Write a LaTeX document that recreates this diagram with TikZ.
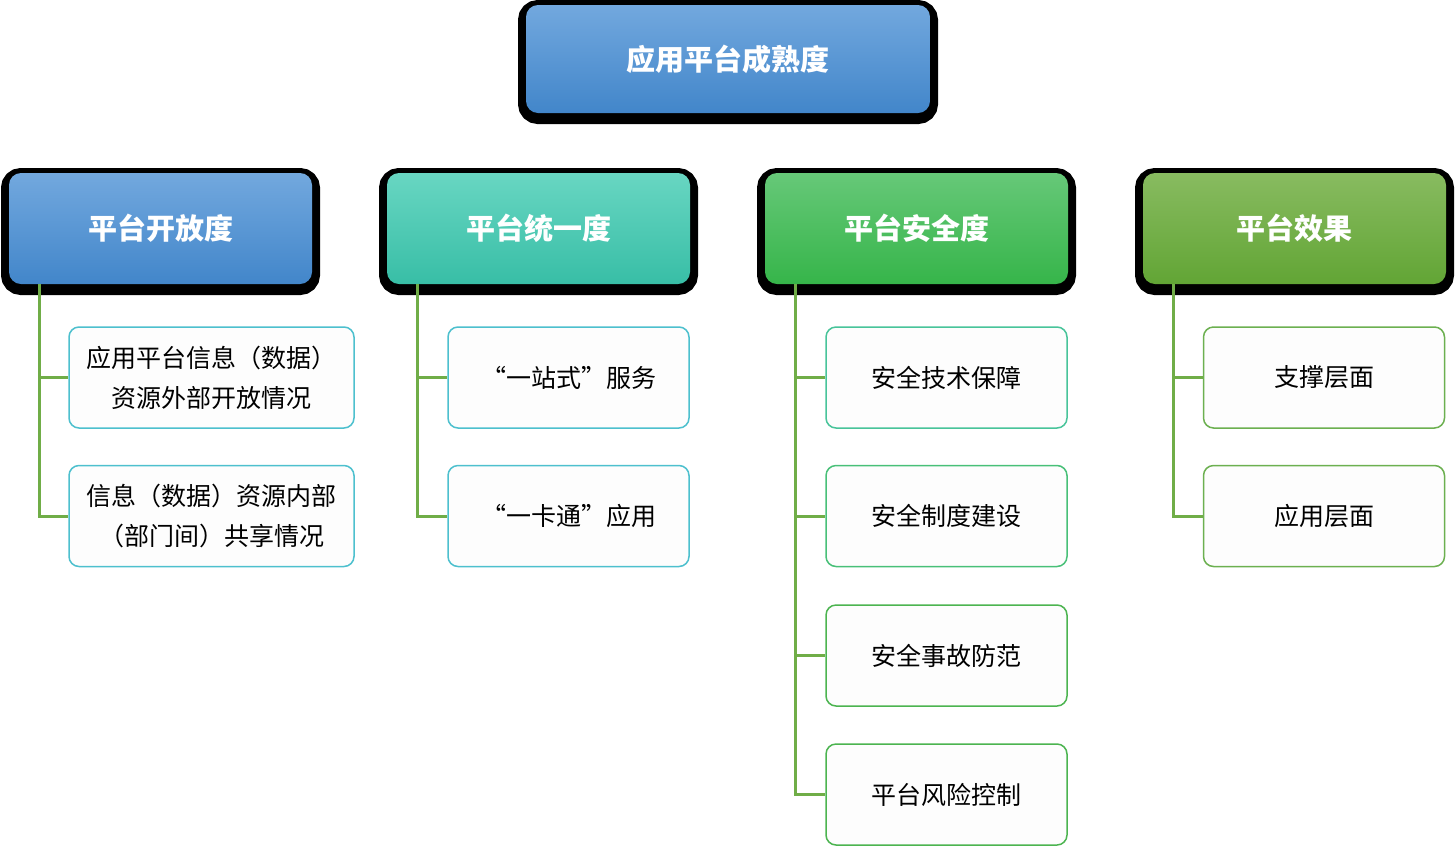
\documentclass[tikz,border=0pt]{standalone}
\usepackage{fontspec}
\setmainfont{Noto Sans CJK SC}
\usepackage{tikz}
\usetikzlibrary{shadows}

\definecolor{blueTop}{RGB}{114,168,222}
\definecolor{blueBot}{RGB}{66,134,202}
\definecolor{tealTop}{RGB}{104,214,194}
\definecolor{tealBot}{RGB}{56,190,166}
\definecolor{greenTop}{RGB}{102,200,120}
\definecolor{greenBot}{RGB}{54,181,74}
\definecolor{oliveTop}{RGB}{136,187,96}
\definecolor{oliveBot}{RGB}{98,165,53}
\definecolor{linkGreen}{RGB}{112,173,71}
\definecolor{edgeCyan}{RGB}{77,192,206}
\definecolor{edgeTeal}{RGB}{72,196,154}
\definecolor{edgeMint}{RGB}{72,192,120}
\definecolor{edgeGreen}{RGB}{76,180,80}
\definecolor{edgeOlive}{RGB}{108,176,80}
\definecolor{leafFill}{RGB}{253,253,253}

\begin{document}
\begin{tikzpicture}[x=0.5pt, y=-0.5pt,
  head/.style = {rounded corners=6pt, inner sep=0pt, text=white,
    font=\fontsize{14.5}{17}\selectfont\bfseries,
    minimum width=151.5pt, minimum height=55.5pt,
    general shadow={draw=black, fill=black, line width=8pt, shadow xshift=0pt, shadow yshift=-1.5pt}},
  leaf/.style = {draw=#1, line width=0.75pt, rounded corners=5pt, fill=leafFill,
    minimum width=120.5pt, minimum height=50.5pt, inner sep=0pt, align=center,
    font=\fontsize{12.5}{20}\selectfont},
  link/.style = {draw=linkGreen, line width=1.5pt}]

\fill[white] (0,0) rectangle (1456,847);
\useasboundingbox (0,0) rectangle (1456,847);

% top box
\node[head, top color=blueTop, bottom color=blueBot, minimum width=202pt, minimum height=54pt] (root) at (728,59) {应用平台成熟度};

% second row
\node[head, top color=blueTop, bottom color=blueBot] (h1) at (160.5,228.5) {平台开放度};
\node[head, top color=tealTop, bottom color=tealBot] (h2) at (538.5,228.5) {平台统一度};
\node[head, top color=greenTop, bottom color=greenBot] (h3) at (916.5,228.5) {平台安全度};
\node[head, top color=oliveTop, bottom color=oliveBot] (h4) at (1294.5,228.5) {平台效果};

\node[leaf=edgeCyan, minimum width=142.5pt] (c11) at (211.5,377.5) {应用平台信息（数据）\\资源外部开放情况};
\node[leaf=edgeCyan, minimum width=142.5pt] (c12) at (211.5,516) {信息（数据）资源内部\\（部门间）共享情况};

\node[leaf=edgeCyan] (c21) at (568.5,377.5) {“一站式”服务};
\node[leaf=edgeCyan] (c22) at (568.5,516) {“一卡通”应用};

\node[leaf=edgeTeal] (c31) at (946.5,377.5) {安全技术保障};
\node[leaf=edgeMint] (c32) at (946.5,516) {安全制度建设};
\node[leaf=edgeGreen] (c33) at (946.5,655.5) {安全事故防范};
\node[leaf=edgeGreen] (c34) at (946.5,794.5) {平台风险控制};

\node[leaf=edgeOlive] (c41) at (1324,377.5) {支撑层面};
\node[leaf=edgeOlive] (c42) at (1324,516) {应用层面};

\coordinate (t1) at ([xshift=15.5pt]h1.south west);
\coordinate (t2) at ([xshift=15.5pt]h2.south west);
\coordinate (t3) at ([xshift=15.5pt]h3.south west);
\coordinate (t4) at ([xshift=15.5pt]h4.south west);

\draw[link] (t1) |- (c11.west);
\draw[link] (t1) |- (c12.west);
\draw[link] (t2) |- (c21.west);
\draw[link] (t2) |- (c22.west);
\draw[link] (t3) |- (c31.west);
\draw[link] (t3) |- (c32.west);
\draw[link] (t3) |- (c33.west);
\draw[link] (t3) |- (c34.west);
\draw[link] (t4) |- (c41.west);
\draw[link] (t4) |- (c42.west);
\end{tikzpicture}
\end{document}
